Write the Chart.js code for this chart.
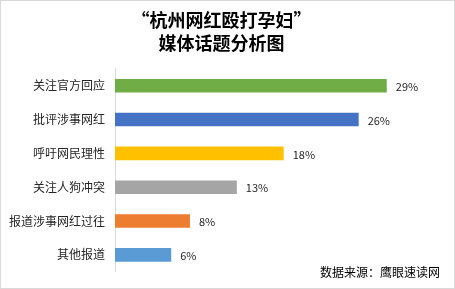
<!DOCTYPE html>
<html>
<head>
  <meta charset="utf-8">
  <title>杭州网红殴打孕妇 媒体话题分析图</title>
  <script src="https://cdn.jsdelivr.net/npm/chart.js"></script>
  <style>
    body { margin: 0; padding: 0; background: #fff; }
    #wrap { width: 455px; height: 289px; position: relative; }
  </style>
</head>
<body>
  <div id="wrap"><canvas id="myChart"></canvas></div>

  <script>
    const titleLines = ['“杭州网红殴打孕妇”', '媒体话题分析图'];
    const topics = ['关注官方回应', '批评涉事网红', '呼吁网民理性', '关注人狗冲突', '报道涉事网红过往', '其他报道'];
    const shares = [29, 26, 18, 13, 8, 6];
    const barColors = ['#70AD47', '#4472C4', '#FFC000', '#A5A5A5', '#ED7D31', '#5B9BD5'];
    const sourceNote = '数据来源：鹰眼速读网';

    const fontFamily = '"Noto Sans CJK SC", "Microsoft YaHei", sans-serif';

    // value labels, source note and the thin frame
    const extras = {
      id: 'extras',
      afterDatasetsDraw(chart) {
        const ctx = chart.ctx;
        const meta = chart.getDatasetMeta(0);
        ctx.save();
        ctx.font = '11px ' + fontFamily;
        ctx.fillStyle = '#262626';
        ctx.textAlign = 'left';
        ctx.textBaseline = 'middle';
        meta.data.forEach((bar, i) => {
          ctx.fillText(shares[i] + '%', bar.x + 9, bar.y + 1);
        });

        ctx.font = '12px ' + fontFamily;
        ctx.fillStyle = '#000';
        ctx.textAlign = 'right';
        ctx.fillText(sourceNote, 440, 272);

        ctx.strokeStyle = '#d9d9d9';
        ctx.lineWidth = 1;
        ctx.strokeRect(0.5, 0.5, chart.width - 1, chart.height - 1);
        ctx.restore();
      }
    };

    const ctx = document.getElementById('myChart').getContext('2d');
    new Chart(ctx, {
      type: 'bar',
      data: {
        labels: topics,
        datasets: [{
          data: shares,
          backgroundColor: barColors,
          barPercentage: 0.4,
          categoryPercentage: 1
        }]
      },
      options: {
        indexAxis: 'y',
        responsive: true,
        maintainAspectRatio: false,
        animation: false,
        layout: { padding: { left: 0, right: 12, top: 0, bottom: 10 } },
        plugins: {
          legend: { display: false },
          tooltip: { enabled: false },
          title: {
            display: true,
            text: titleLines,
            color: '#000',
            font: { family: fontFamily, size: 18, weight: 'bold', lineHeight: 1.3 },
            padding: { top: 8, bottom: 14 }
          }
        },
        scales: {
          x: {
            display: false,
            min: 0,
            max: 35
          },
          y: {
            afterFit(scale) { scale.width = 115; },
            grid: { display: false, drawTicks: false },
            border: { display: true, color: '#d9d9d9', width: 1 },
            ticks: {
              padding: 10,
              color: '#262626',
              font: { family: fontFamily, size: 12 }
            }
          }
        }
      },
      plugins: [extras]
    });
  </script>
</body>
</html>
